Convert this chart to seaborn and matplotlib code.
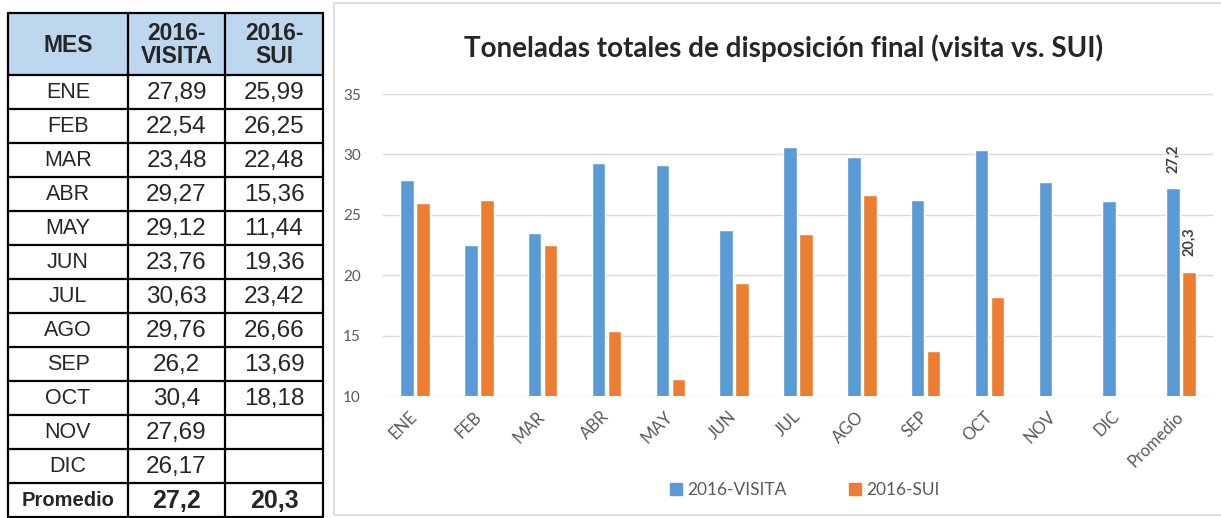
import numpy as np
import pandas as pd
import matplotlib
matplotlib.use('Agg')
import matplotlib.pyplot as plt
from matplotlib.patches import Rectangle
from matplotlib.lines import Line2D
import seaborn as sns

# Data
meses = ['ENE', 'FEB', 'MAR', 'ABR', 'MAY', 'JUN', 'JUL', 'AGO', 'SEP', 'OCT', 'NOV', 'DIC', 'Promedio']
visita = [27.89, 22.54, 23.48, 29.27, 29.12, 23.76, 30.63, 29.76, 26.2, 30.4, 27.69, 26.17, 27.2]
sui = [25.99, 26.25, 22.48, 15.36, 11.44, 19.36, 23.42, 26.66, 13.69, 18.18, np.nan, np.nan, 20.3]
series = ['2016-VISITA', '2016-SUI']
colors = ['#5B9BD5', '#ED7D31']
yticks = [10, 15, 20, 25, 30, 35]

sns.set_theme(style='white')
plt.rcParams['font.family'] = ['Lato', 'DejaVu Sans']

W, H = 1221, 518
fig = plt.figure(figsize=(W / 100, H / 100), dpi=100)

# ---------- table on the left ----------
tab = fig.add_axes([0, 0, 326 / W, 1])
tab.set_xlim(0, 326)
tab.set_ylim(H, 0)
tab.axis('off')

col_x = [8, 128, 225, 323]
head_top, head_bot = 13, 75
row_h = 34
n_rows = len(meses)
bottom = head_bot + row_h * n_rows

tab.add_patch(Rectangle((col_x[0], head_top), col_x[-1] - col_x[0], head_bot - head_top,
                        facecolor='#BDD7EE', edgecolor='none'))
for x in col_x:
    tab.plot([x, x], [head_top, bottom], color='black', lw=1.6)
for y in [head_top, head_bot] + [head_bot + row_h * (i + 1) for i in range(n_rows)]:
    tab.plot([col_x[0], col_x[-1]], [y, y], color='black', lw=1.6)

tf = ['Liberation Sans', 'DejaVu Sans']
centers = [(col_x[i] + col_x[i + 1]) / 2 for i in range(3)]
tab.text(centers[0], (head_top + head_bot) / 2 + 1, 'MES', ha='center', va='center',
         fontsize=16.5, fontweight='bold', family=tf)
for c, s in zip(centers[1:], series):
    tab.text(c, (head_top + head_bot) / 2 + 1, s.replace('-', '-\n'), ha='center', va='center',
             fontsize=16.5, fontweight='bold', family=tf, linespacing=0.95)


def fmt(v):
    return '' if np.isnan(v) else f'{v:g}'.replace('.', ',')


for i, m in enumerate(meses):
    yc = head_bot + row_h * i + row_h / 2 + 1
    last = m == 'Promedio'
    if last:
        tab.text(centers[0], yc, m, ha='center', va='center', fontsize=14.5,
                 fontweight='bold', family=tf)
        tab.text(centers[1], yc, fmt(visita[i]), ha='center', va='center', fontsize=18,
                 fontweight='bold', family=tf)
        tab.text(centers[2], yc, fmt(sui[i]), ha='center', va='center', fontsize=18,
                 fontweight='bold', family=tf)
    else:
        tab.text(centers[0], yc, m, ha='center', va='center', fontsize=15.5, family=tf)
        tab.text(centers[1], yc, fmt(visita[i]), ha='center', va='center', fontsize=17.5,
                 family=tf)
        tab.text(centers[2], yc, fmt(sui[i]), ha='center', va='center', fontsize=17.5,
                 family=tf)

# ---------- chart frame ----------
fig.patches.append(Rectangle((334 / W, 3 / H), 1, (515 - 3) / H, transform=fig.transFigure,
                             facecolor='none', edgecolor='#D9D9D9', lw=1.2, zorder=-1))

# ---------- bar chart ----------
df = pd.DataFrame({
    'Mes': meses * 2,
    'Serie': [series[0]] * len(meses) + [series[1]] * len(meses),
    'Toneladas': visita + sui,
})

ax = fig.add_axes([383 / W, 1 - 396 / H, (1213 - 383) / W, (396 - 94) / H])
ax.set_facecolor('none')
sns.barplot(data=df, x='Mes', y='Toneladas', hue='Serie', order=meses, hue_order=series,
            palette=colors, width=0.5, gap=0.15, errorbar=None, legend=False, ax=ax,
            saturation=1)

ax.set_ylim(10, 35)
ax.set_xlim(-0.5, len(meses) - 0.5)
ax.set_yticks(yticks)
ax.yaxis.grid(True, color='#D9D9D9', lw=1)
ax.set_axisbelow(True)
for sp in ax.spines.values():
    sp.set_visible(False)
ax.set_xlabel('')
ax.set_ylabel('')
ax.tick_params(axis='y', length=0, pad=16, labelsize=11, labelcolor='#595959')
ax.tick_params(axis='x', length=0, pad=13, labelsize=12, labelcolor='#595959')
plt.setp(ax.get_xticklabels(), rotation=45, ha='right', va='center', rotation_mode='anchor')

# data labels only on the average bars
for cont, vals in zip(ax.containers, [visita, sui]):
    p = cont.patches[-1]
    ax.annotate(fmt(vals[-1]), (p.get_x() + p.get_width() / 2, p.get_height()),
                xytext=(0, 11), textcoords='offset points', rotation=90, ha='center',
                va='bottom', fontsize=10.5, fontweight='bold', color='#404040')

fig.text(784 / W, 1 - 48 / H, 'Toneladas totales de disposición final (visita vs. SUI)',
         ha='center', va='center', fontsize=20, fontweight='bold', color='#262626')

handles = [Line2D([], [], marker='s', ls='none', color=c, markersize=8.5) for c in colors]
fig.legend(handles, series, loc='center', bbox_to_anchor=(805 / W, 1 - 490 / H), ncol=2,
           frameon=False, fontsize=12.5, labelcolor='#595959', handlelength=0.7,
           handletextpad=0.3, columnspacing=3.6)

fig.savefig('out.png', dpi=100)
